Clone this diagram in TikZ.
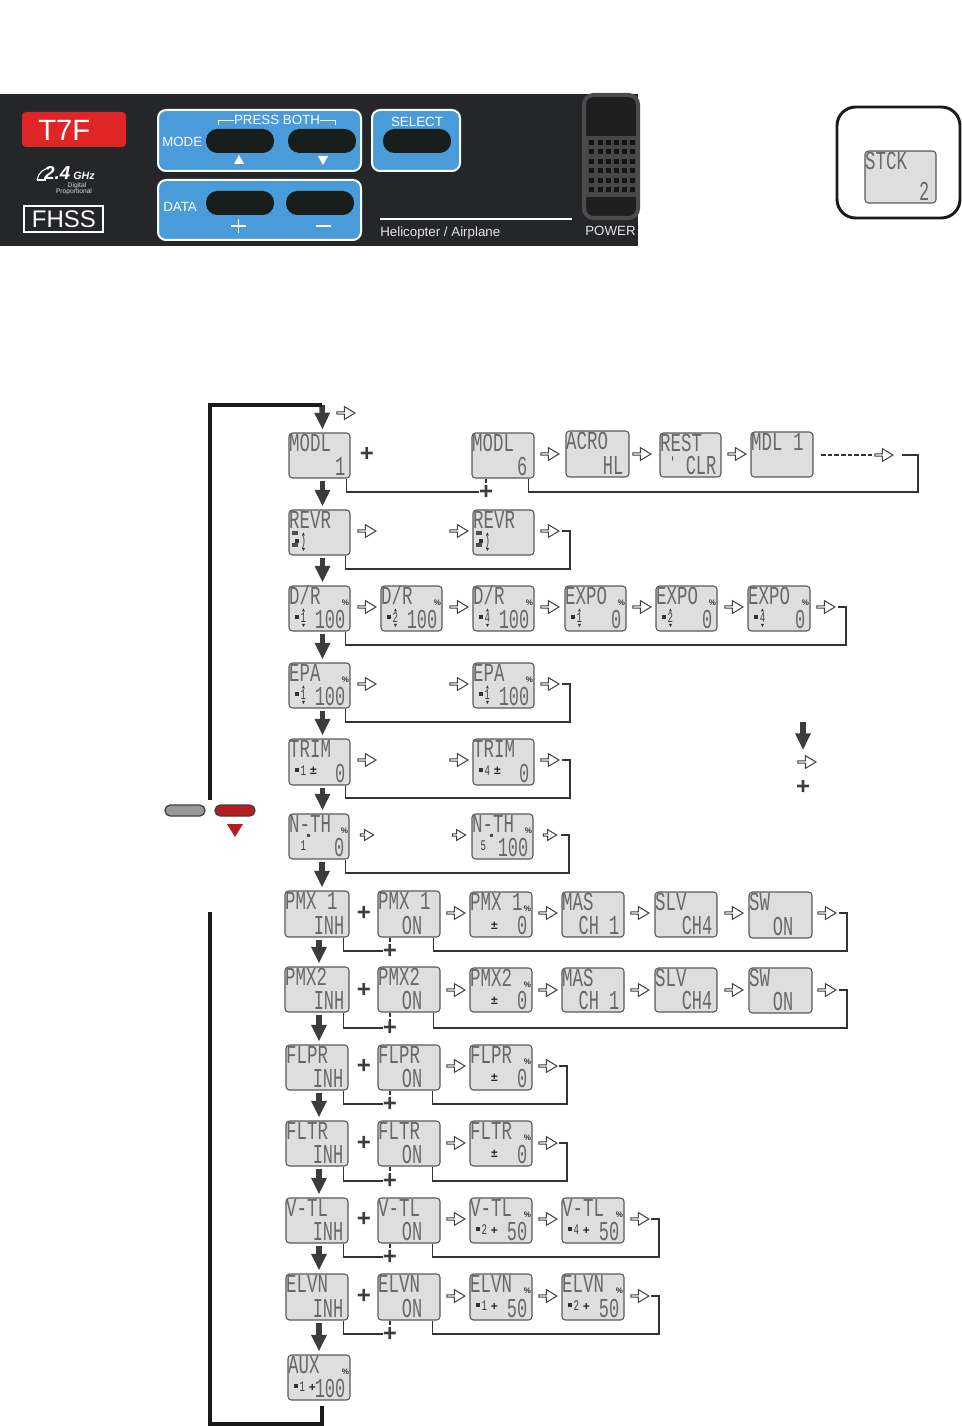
\documentclass[tikz,border=0pt]{standalone}
\usepackage{fontspec}
\setmainfont{Liberation Sans}
\newfontfamily\lcdfont[FakeStretch=0.67]{Liberation Mono}
\newfontfamily\lcdfontb[FakeStretch=0.62]{Liberation Mono}
\usetikzlibrary{arrows.meta,shapes.arrows}
\definecolor{paneldark}{HTML}{25262A}
\definecolor{panelblue}{HTML}{4A9BD9}
\definecolor{keyblack}{HTML}{161D1B}
\definecolor{redbadge}{HTML}{E02527}
\definecolor{lcdfill}{HTML}{DEDEDE}
\definecolor{lcdink}{HTML}{686868}
\definecolor{arrowink}{HTML}{3D3B3C}
\definecolor{btnred}{HTML}{B71C22}
\newcounter{oac}
\tikzset{
  lcdbox/.style={draw=black!65,fill=lcdfill,line width=0.8pt,rounded corners=2.6pt,inner sep=0pt},
  lcdtop/.style={anchor=base west,inner sep=0pt,text=lcdink,font=\lcdfont\fontsize{19.5}{20}\selectfont},
  lcdbot/.style={anchor=base east,inner sep=0pt,text=lcdink,font=\lcdfontb\fontsize{20.5}{21}\selectfont},
  lcdsmall/.style={inner sep=0pt,text=black!75,font=\lcdfontb\fontsize{11}{11}\selectfont},
  lcdpct/.style={inner sep=0pt,text=black!80,font=\bfseries\fontsize{6}{6}\selectfont},
  lcdsign/.style={inner sep=0pt,text=black!85,font=\bfseries\fontsize{9}{9}\selectfont},
  oarrow/.style={single arrow,draw=black!75,fill=white,line width=0.75pt,inner sep=0pt,
    minimum width=9.5pt,minimum height=13.5pt,single arrow head extend=1.7pt,single arrow tip angle=62},
  oarrowsm/.style={oarrow,minimum width=8pt,minimum height=10pt,single arrow head extend=1.4pt},
  plusn/.style={inner sep=0pt,text=arrowink,font=\bfseries\fontsize{18}{18}\selectfont},
  bigarrow/.style={draw=arrowink,line width=4.2pt,-{Triangle[length=12.5pt,width=11pt]}},
  retline/.style={draw=black!80,line width=0.85pt},
  retthick/.style={draw=black!80,line width=1.15pt},
  dashlink/.style={draw=black!80,line width=1.15pt,dash pattern=on 3pt off 1.6pt},
  loopline/.style={draw=black!90,line width=2.9pt},
  bluepanel/.style={draw=white,fill=panelblue,line width=1.5pt,rounded corners=6pt,inner sep=0pt},
  pill/.style={fill=keyblack,rounded corners=8.6pt,inner sep=0pt,minimum width=51pt,minimum height=18pt},
  paneltext/.style={inner sep=0pt,text=white,font=\fontsize{10}{11}\selectfont},
}
\newcommand\placebox[6]{%
  \pgfmathsetmacro\bxw{(#4-#2)*0.75}\pgfmathsetmacro\bxh{(#5-#3)*0.75}%
  \pgfmathsetmacro\bxx{(#2+#4)/2}\pgfmathsetmacro\bxy{(#3+#5)/2}%
  \node[#6,minimum width=\bxw pt,minimum height=\bxh pt] (#1) at (\bxx,\bxy) {};}
\newcommand\lcd[8][-5]{%
  \placebox{#2}{#3}{#4}{#5}{#6}{lcdbox}%
  \node[lcdtop] (#2-t) at ([shift={(0.5,19.5)}]#2.north west) {#7};
  \node[lcdbot] (#2-b) at ([shift={(#1,-3)}]#2.south east) {#8};}
\newcommand\pct[1]{\node[lcdpct] (#1-p) at ([shift={(-5,17)}]#1.north east) {\%};}
\newcommand\lsign[4]{\node[lcdsign] (#1-s) at ([shift={(#2,#3)}]#1.north west) {#4};}
\newcommand\stk[3]{% box, digit, triangles 0/1
  \node[lcdsmall] (#1-d) at ([shift={(15,32)}]#1.north west) {#2};
  \fill[black!80] ([shift={(7,30)}]#1.north west) rectangle ++(4,4);
  \ifnum#3=1
    \fill[black!80] ([shift={(13.5,26)}]#1.north west) -- ++(3,0) -- ++(-1.5,-3) -- cycle;
    \fill[black!80] ([shift={(13.5,38.5)}]#1.north west) -- ++(3,0) -- ++(-1.5,3) -- cycle;
  \fi}
\newcommand\revdots[1]{%
  \fill[black!70] ([shift={(4,22)}]#1.north west) rectangle ++(6,3.5);
  \fill[black!70] ([shift={(4,34)}]#1.north west) rectangle ++(6,3.5);}
\newcommand\oarr[2]{\stepcounter{oac}\node[oarrow] (oa\arabic{oac}) at (#1,#2) {};}
\newcommand\oarrs[2]{\stepcounter{oac}\node[oarrowsm] (oa\arabic{oac}) at (#1,#2) {};}
\newcommand\ret[7][retline]{% style, box, dx, ybottom, xright, yarrow, xend
  \coordinate (#2-c1) at (#5,#4);\coordinate (#2-c2) at (#5,#6);\coordinate (#2-c3) at (#7,#6);
  \draw[#1] ([shift={(#3,0)}]#2.south east) |- (#2-c1) -- (#2-c2) -- (#2-c3);}
\newcommand\pluslink[5]{% boxA, boxB, dx, xplus, yplus
  \node[plusn] (#1-plus) at (#4,#5) {+};
  \draw[retthick] ([shift={(#3,0)}]#1.south east) |- (#1-plus.west);
  \draw[dashlink] (#1-plus.north |- #2.south) -- (#1-plus.north);}
\newcommand\bigarr[3]{\draw[bigarrow] ([shift={(#3,2)}]#1.south) -- ([shift={(#3,-3)}]#1.south |- #2.north);}
\begin{document}
\begin{tikzpicture}[x=0.75pt,y=-0.75pt]
\useasboundingbox (0,0) rectangle (962,1426);
% ---------- front panel
\placebox{panel}{0}{94}{638}{246}{fill=paneldark,inner sep=0pt}
\placebox{badge}{22}{112}{126}{147}{fill=redbadge,rounded corners=3pt,inner sep=0pt}
\node[anchor=base west,inner sep=0pt,text=white,font=\fontsize{22}{24}\selectfont] (t7f) at (38,141) {T7F};
\node[anchor=base west,inner sep=0pt,text=white,font=\bfseries\itshape\fontsize{14}{16}\selectfont] (ghz24) at (44,180) {2.4};
\node[anchor=base west,inner sep=0pt,text=white,font=\bfseries\itshape\fontsize{8}{8}\selectfont] (ghz) at (73,180) {GHz};
\draw[white,line width=0.8pt] (37,180) .. controls (38,173) and (44,168) .. (52,167);
\draw[white,line width=0.8pt] (37,180) -- (46,180);
\node[inner sep=0pt,text=white!85!black,font=\fontsize{5}{5}\selectfont] (dig) at (77,186) {Digital};
\node[inner sep=0pt,text=white!85!black,font=\fontsize{5}{5}\selectfont] (prop) at (74,192) {Proportional};
\placebox{fhss}{24}{206}{103}{232}{draw=white,line width=1.1pt,inner sep=0pt}
\node[inner sep=0pt,text=white,font=\fontsize{18}{20}\selectfont] (fhsst) at (64,219) {FHSS};
\placebox{pmode}{158}{110}{361}{171}{bluepanel}
\placebox{pdata}{158}{180}{361}{240}{bluepanel}
\placebox{psel}{372}{110}{460}{171}{bluepanel}
\placebox{k1}{206}{129}{274}{153}{pill}
\placebox{k2}{288}{129}{356}{153}{pill}
\placebox{k3}{206}{191}{274}{215}{pill}
\placebox{k4}{286}{191}{354}{215}{pill}
\placebox{k5}{383}{129}{451}{153}{pill}
\node[paneltext,anchor=west] (tmode) at (162,142) {MODE};
\node[paneltext,anchor=west] (tdata) at (163,207) {DATA};
\node[paneltext] (tboth) at (277,120) {PRESS BOTH};
\node[paneltext] (tsel) at (417,122) {SELECT};
\draw[white,line width=0.6pt] (218,125) |- (tboth.west);
\draw[white,line width=0.6pt] (335,125) |- (tboth.east);
\fill[white] (234,164) -- (244,164) -- (239,155) -- cycle;
\fill[white] (318,156) -- (328,156) -- (323,165) -- cycle;
\draw[white,line width=1.3pt] (231,226) -- (246,226) (238.5,219) -- (238.5,233);
\draw[white,line width=1.8pt] (316,226) -- (331,226);
\coordinate (wl1) at (380,219);\coordinate (wl2) at (572,219);
\draw[white,line width=2.2pt] (wl1) -- (wl2);
\node[anchor=base west,inner sep=0pt,text=white!90!black,font=\fontsize{10}{11}\selectfont] (heli) at (380,237) {Helicopter / Airplane};
\node[anchor=base west,inner sep=0pt,text=white!90!black,font=\fontsize{10}{11}\selectfont] (pwr) at (585,236) {POWER};
\placebox{sw}{584}{95}{638}{218}{fill=black!88,draw=black!70,line width=3pt,rounded corners=7pt,inner sep=0pt}
\fill[black!72] (586,136) rectangle (636,197);
\foreach \cx in {589,597.5,606,614,622,630}{\foreach \cy in {140,149.5,159,168.5,178,187.5}{\fill[black!92] (\cx,\cy) rectangle ++(5,5);}}
% ---------- stick mode box
\placebox{stkframe}{837}{107}{960}{218}{draw=black!90,fill=white,line width=2.2pt,rounded corners=14pt,inner sep=0pt}
\lcd[-7]{st}{865}{151}{936}{203}{STCK}{2}
% ---------- screens
\lcd{a1}{289}{433}{350}{478}{MODL}{1}
\lcd[-7]{a2}{472}{433}{534}{478}{MODL}{6}
\lcd[-6]{a3}{566}{431}{629}{477}{ACRO}{HL}
\lcd{a4}{660}{433}{721}{477}{REST}{CLR}
\node[lcdsmall] (a4-q) at ([shift={(13,30)}]a4.north west) {'};
\lcd{a5}{751}{432}{813}{477}{MDL 1}{}
\lcd{b1}{289}{510}{350}{555}{REVR}{}
\lcd{b2}{473}{510}{534}{555}{REVR}{}
\stk{b1}{)}{1}\revdots{b1}\stk{b2}{)}{1}\revdots{b2}
\lcd{c1}{289}{586}{350}{631}{D/R}{100}\pct{c1}\stk{c1}{1}{1}
\lcd{c2}{381}{586}{442}{631}{D/R}{100}\pct{c2}\stk{c2}{2}{1}
\lcd{c3}{473}{586}{534}{631}{D/R}{100}\pct{c3}\stk{c3}{4}{1}
\lcd{c4}{565}{586}{626}{631}{EXPO}{0}\pct{c4}\stk{c4}{1}{1}
\lcd{c5}{656}{586}{717}{631}{EXPO}{0}\pct{c5}\stk{c5}{2}{1}
\lcd{c6}{748}{586}{810}{631}{EXPO}{0}\pct{c6}\stk{c6}{4}{1}
\lcd{d1}{289}{663}{350}{708}{EPA}{100}\pct{d1}\stk{d1}{1}{1}
\lcd{d2}{473}{663}{534}{708}{EPA}{100}\pct{d2}\stk{d2}{1}{1}
\lcd{e1}{289}{739}{350}{785}{TRIM}{0}\stk{e1}{1}{0}\lsign{e1}{25}{32}{±}
\lcd{e2}{473}{739}{534}{785}{TRIM}{0}\stk{e2}{4}{0}\lsign{e2}{25}{32}{±}
\lcd{f1}{289}{814}{349}{859}{N-TH}{0}\pct{f1}
\node[lcdsmall] (f1-d) at ([shift={(15,32)}]f1.north west) {1};
\fill[black!70] ([shift={(19,21)}]f1.north west) rectangle ++(3,3);
\lcd{f2}{472}{814}{533}{859}{N-TH}{100}\pct{f2}
\node[lcdsmall] (f2-d) at ([shift={(12,32)}]f2.north west) {5};
\fill[black!70] ([shift={(19,21)}]f2.north west) rectangle ++(3,3);
\lcd{g1}{285}{891}{349}{937}{PMX 1}{INH}
\lcd[-18]{g2}{378}{891}{440}{937}{PMX 1}{ON}
\lcd{g3}{470}{892}{532}{937}{PMX 1}{0}\pct{g3}\lsign{g3}{25}{34}{±}
\lcd{g4}{562}{892}{624}{937}{ MAS}{CH 1}
\lcd{g5}{655}{892}{717}{937}{ SLV}{CH4}
\lcd[-19]{g6}{749}{892}{812}{938}{ SW}{ON}
\lcd{h1}{285}{967}{349}{1012}{PMX2}{INH}
\lcd[-18]{h2}{378}{967}{440}{1012}{PMX2}{ON}
\lcd{h3}{470}{968}{532}{1012}{PMX2}{0}\pct{h3}\lsign{h3}{25}{33}{±}
\lcd{h4}{562}{968}{624}{1012}{ MAS}{CH 1}
\lcd{h5}{655}{968}{717}{1012}{ SLV}{CH4}
\lcd[-19]{h6}{749}{968}{812}{1013}{ SW}{ON}
\lcd{i1}{286}{1045}{348}{1090}{FLPR}{INH}
\lcd[-18]{i2}{378}{1045}{440}{1090}{FLPR}{ON}
\lcd{i3}{470}{1045}{532}{1090}{FLPR}{0}\pct{i3}\lsign{i3}{25}{33}{±}
\lcd{j1}{286}{1121}{348}{1166}{FLTR}{INH}
\lcd[-18]{j2}{378}{1121}{440}{1166}{FLTR}{ON}
\lcd{j3}{470}{1121}{532}{1166}{FLTR}{0}\pct{j3}\lsign{j3}{25}{33}{±}
\lcd{k1x}{286}{1198}{348}{1243}{V-TL}{INH}
\lcd[-18]{k2x}{378}{1198}{440}{1243}{V-TL}{ON}
\lcd{k3x}{470}{1198}{532}{1243}{V-TL}{50}\pct{k3x}\stk{k3x}{2}{0}\lsign{k3x}{25}{33}{+}
\lcd{k4x}{562}{1198}{624}{1243}{V-TL}{50}\pct{k4x}\stk{k4x}{4}{0}\lsign{k4x}{25}{33}{+}
\lcd{l1}{286}{1274}{348}{1320}{ELVN}{INH}
\lcd[-18]{l2}{378}{1274}{440}{1320}{ELVN}{ON}
\lcd{l3}{470}{1274}{532}{1320}{ELVN}{50}\pct{l3}\stk{l3}{1}{0}\lsign{l3}{25}{33}{+}
\lcd{l4}{562}{1274}{624}{1320}{ELVN}{50}\pct{l4}\stk{l4}{2}{0}\lsign{l4}{25}{33}{+}
\lcd{m1}{288}{1355}{350}{1400}{AUX}{100}\pct{m1}\stk{m1}{1}{0}\lsign{m1}{25}{33}{+}
% ---------- big down arrows
\coordinate (looptop) at (322,405);
\draw[bigarrow] (looptop) -- ([shift={(3,-3)}]a1.north);
\bigarr{a1}{b1}{3}\bigarr{b1}{c1}{3}\bigarr{c1}{d1}{3}\bigarr{d1}{e1}{3}\bigarr{e1}{f1}{3}\bigarr{f1}{g1}{3}
\bigarr{g1}{h1}{2}\bigarr{h1}{i1}{2}\bigarr{i1}{j1}{2}\bigarr{j1}{k1x}{2}\bigarr{k1x}{l1}{2}\bigarr{l1}{m1}{2}
% ---------- main loop
\coordinate (loopa) at (210,800);\coordinate (loopb) at (210,912);\coordinate (loopc) at (322,1424);
\draw[loopline] (loopa) |- (looptop);
\coordinate (loopd) at (322,1406);
\draw[loopline] (loopd) -- (loopc) -| (loopb);
% ---------- buttons
\placebox{btng}{165}{805}{205}{816}{draw=black!75,fill=black!40,line width=1pt,rounded corners=4pt,inner sep=0pt}
\placebox{btnr}{215}{805}{255}{816}{draw=black!75,fill=btnred,line width=1pt,rounded corners=4pt,inner sep=0pt}
\fill[btnred] (227,824) -- (243,824) -- (235,837) -- cycle;
% ---------- outline arrows
\oarr{345}{413}
\oarr{549}{454}\oarr{641}{454}\oarr{736}{454}\oarr{883}{455}
\oarr{366}{531}\oarr{458}{531}\oarr{549}{531}
\oarr{366}{607}\oarr{458}{607}\oarr{549}{607}\oarr{641}{607}\oarr{733}{607}\oarr{825}{607}
\oarr{366}{684}\oarr{458}{684}\oarr{549}{684}
\oarr{366}{760}\oarr{458}{760}\oarr{549}{760}
\oarrs{366}{835}\oarrs{458}{835}\oarrs{549}{835}
\oarr{455}{913}\oarr{547}{913}\oarr{639}{913}\oarr{733}{913}\oarr{826}{913}
\oarr{455}{990}\oarr{547}{990}\oarr{639}{990}\oarr{733}{990}\oarr{826}{990}
\oarr{455}{1066}\oarr{547}{1066}
\oarr{455}{1143}\oarr{547}{1143}
\oarr{455}{1219}\oarr{547}{1219}\oarr{639}{1219}
\oarr{455}{1296}\oarr{547}{1296}\oarr{639}{1296}
% ---------- plus signs between screens
\node[plusn] (pa) at (367,454) {+};
\node[plusn] (pg) at (364,913) {+};
\node[plusn] (ph) at (364,990) {+};
\node[plusn] (pi) at (364,1066) {+};
\node[plusn] (pj) at (364,1143) {+};
\node[plusn] (pk) at (364,1219) {+};
\node[plusn] (pl) at (364,1296) {+};
% ---------- return lines
\coordinate (dsh1) at (821,455);\coordinate (dsh2) at (873,455);
\draw[retline,dash pattern=on 3.4pt off 1.6pt] (dsh1) -- (dsh2);
\ret{a2}{-6}{492}{918}{455}{902}
\ret{b1}{-5}{569}{570}{531}{562}
\ret{c1}{-5}{645}{846}{607}{838}
\ret{d1}{-5}{722}{570}{684}{562}
\ret{e1}{-5}{798}{570}{760}{562}
\ret{f1}{-4}{873}{569}{835}{561}
\ret[retthick]{g2}{-7}{951}{847}{913}{839}
\ret[retthick]{h2}{-7}{1028}{847}{990}{839}
\ret[retthick]{i2}{-8}{1104}{567}{1066}{559}
\ret[retthick]{j2}{-8}{1181}{567}{1143}{559}
\ret[retthick]{k2x}{-8}{1257}{659}{1219}{651}
\ret[retthick]{l2}{-8}{1334}{659}{1296}{651}
\pluslink{a1}{a2}{-4}{486}{492}
\pluslink{g1}{g2}{-6}{390}{951}
\pluslink{h1}{h2}{-6}{390}{1028}
\pluslink{i1}{i2}{-5}{390}{1104}
\pluslink{j1}{j2}{-5}{390}{1181}
\pluslink{k1x}{k2x}{-5}{390}{1257}
\pluslink{l1}{l2}{-5}{390}{1334}
% ---------- legend
\coordinate (lg1) at (803,722);\coordinate (lg2) at (803,750);
\draw[bigarrow] (lg1) -- (lg2);
\oarr{806}{762}
\node[plusn] (lgp) at (803,787) {+};
\end{tikzpicture}
\end{document}
